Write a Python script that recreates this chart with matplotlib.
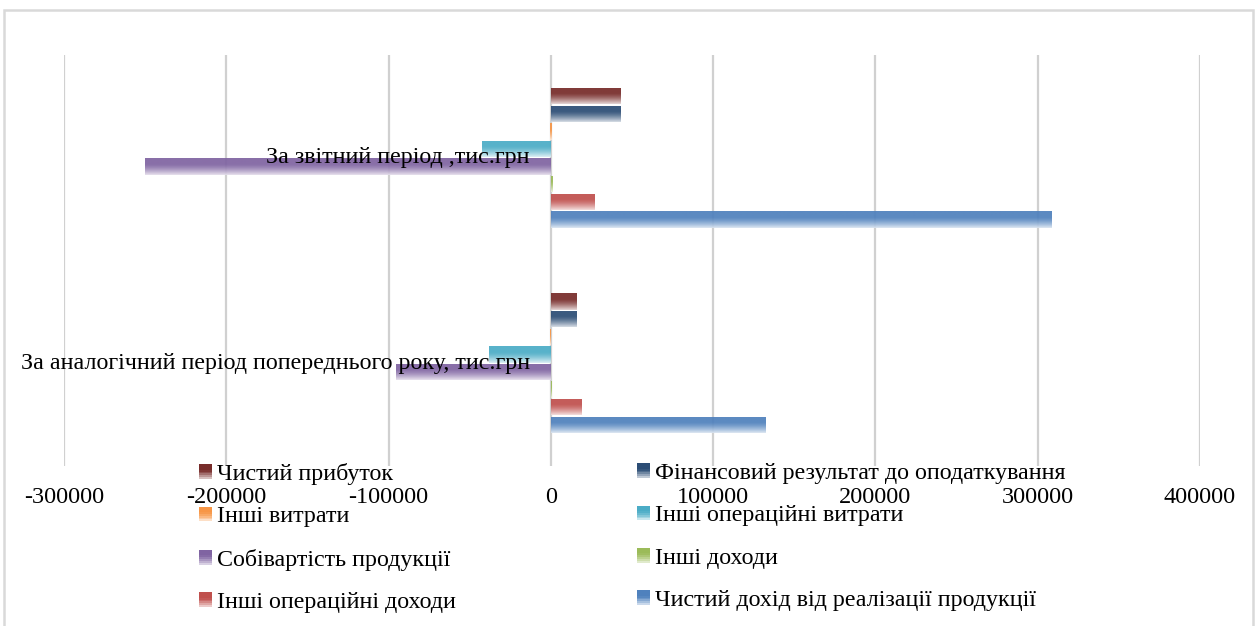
import numpy as np
import matplotlib
matplotlib.use('Agg')
import matplotlib.pyplot as plt
import matplotlib.colors as mcolors
from matplotlib.patches import Rectangle, Patch
from matplotlib.legend_handler import HandlerBase

plt.rcParams['font.family'] = ['Liberation Serif', 'DejaVu Serif']

# data (тис.грн), series in legend order
series_names = [
    "Чистий прибуток",
    "Фінансовий результат до оподаткування",
    "Інші витрати",
    "Інші операційні витрати",
    "Собівартість продукції",
    "Інші доходи",
    "Інші операційні доходи",
    "Чистий дохід від реалізації продукції",
]
series_colors = ['#772c2a', '#2c4d75', '#f79646', '#4bacc6',
                 '#8064a2', '#9bbb59', '#c0504d', '#4f81bd']
categories = ["За аналогічний період попереднього року, тис.грн",
              "За звітний період ,тис.грн"]
previous_year = [15500, 15500, -600, -38000, -95500, 200, 18500, 132000]
current_period = [43000, 43000, -800, -42500, -250000, 1200, 27000, 308500]
x_ticks = [-300000, -200000, -100000, 0, 100000, 200000, 300000, 400000]


def fade(color, t):
    # t: 0 at top of bar, 1 at bottom
    rgb = np.array(mcolors.to_rgb(color))
    f = np.clip((t - 0.35) / 0.65, 0, 1) ** 1.4 * 0.8
    return rgb * (1 - f) + f


def gradient_fill(ax, patch, color):
    # Excel-like vertical gradient: solid at top, fading to light at the bottom
    bb = patch.get_bbox()
    xa, xb = sorted([bb.x0, bb.x1])
    ya, yb = sorted([bb.y0, bb.y1])
    if xb - xa <= 0:
        return
    t = np.linspace(0, 1, 80)
    img = np.array([fade(color, v) for v in t])[:, None, :]
    im = ax.imshow(img, extent=(xa, xb, ya, yb), origin='upper', alpha=0.93,
                   aspect='auto', zorder=2, interpolation='bilinear')
    im.set_clip_path(patch)
    patch.set_visible(False)


class GradientHandler(HandlerBase):
    def create_artists(self, legend, orig_handle, xdescent, ydescent,
                       width, height, fontsize, trans):
        color = orig_handle.get_facecolor()
        strips = 8
        arts = []
        for k in range(strips):
            t = (k + 0.5) / strips
            y = -ydescent + height * (1 - (k + 1) / strips)
            arts.append(Rectangle((-xdescent, y), width, height / strips,
                                  facecolor=fade(color[:3], t), edgecolor='none',
                                  transform=trans))
        return arts


fig = plt.figure(figsize=(12.58, 6.26), dpi=100)
W, H = 1258.0, 626.0
ax = fig.add_axes([64 / W, 1 - 466 / H, (1200 - 64) / W, (466 - 55) / H])

n = len(series_names)
step = 0.0857
height = 0.080
cat_pos = np.arange(len(categories))
data = np.array([previous_year, current_period])  # shape (cat, series)

for i in range(n):
    # series drawn bottom-up: last legend entry lowest in each group
    offset = ((n - 1 - i) - (n - 1) / 2.0) * step
    bars = ax.barh(cat_pos + offset, data[:, i], height=height,
                   color=series_colors[i], zorder=2)
    for p in bars:
        gradient_fill(ax, p, series_colors[i])

ax.set_xlim(-300000, 400000)
ax.set_ylim(-0.5, 1.5)
ax.set_xticks(x_ticks)
ax.set_xticklabels([str(v) for v in x_ticks], fontsize=17.5)
ax.tick_params(axis='x', length=0, pad=15)
ax.set_yticks([])
ax.grid(axis='x', color='#d0d0d0', linewidth=1.6, zorder=0)
ax.set_axisbelow(True)
for s in ax.spines.values():
    s.set_visible(False)

# category labels sit on top of the bars, like the original
for c, name in enumerate(categories):
    ax.text(-13000, cat_pos[c], name, ha='right', va='center',
            fontsize=17.3, zorder=5)

# legend as two columns, row-wise order
handles = [Patch(facecolor=c, edgecolor='none') for c in series_colors]
left_idx = [0, 2, 4, 6]
right_idx = [1, 3, 5, 7]
common = dict(frameon=False, fontsize=17.3, handlelength=0.55, handleheight=0.55,
              handletextpad=0.2, labelspacing=0.89, borderpad=0, borderaxespad=0,
              loc='upper left', handler_map={Patch: GradientHandler()})
leg1 = fig.legend([handles[i] for i in left_idx], [series_names[i] for i in left_idx],
                  bbox_to_anchor=(199 / W, 1 - 463 / H), **common)
leg2 = fig.legend([handles[i] for i in right_idx], [series_names[i] for i in right_idx],
                  bbox_to_anchor=(637 / W, 1 - 463 / H), **common)

# chart area border
fig.patches.append(Rectangle((4 / W, -0.05), (1253 - 4) / W, 1.05 - 10 / H,
                             transform=fig.transFigure, fill=False,
                             edgecolor='#d9d9d9', linewidth=1.8))

fig.savefig('out.png', dpi=100)
